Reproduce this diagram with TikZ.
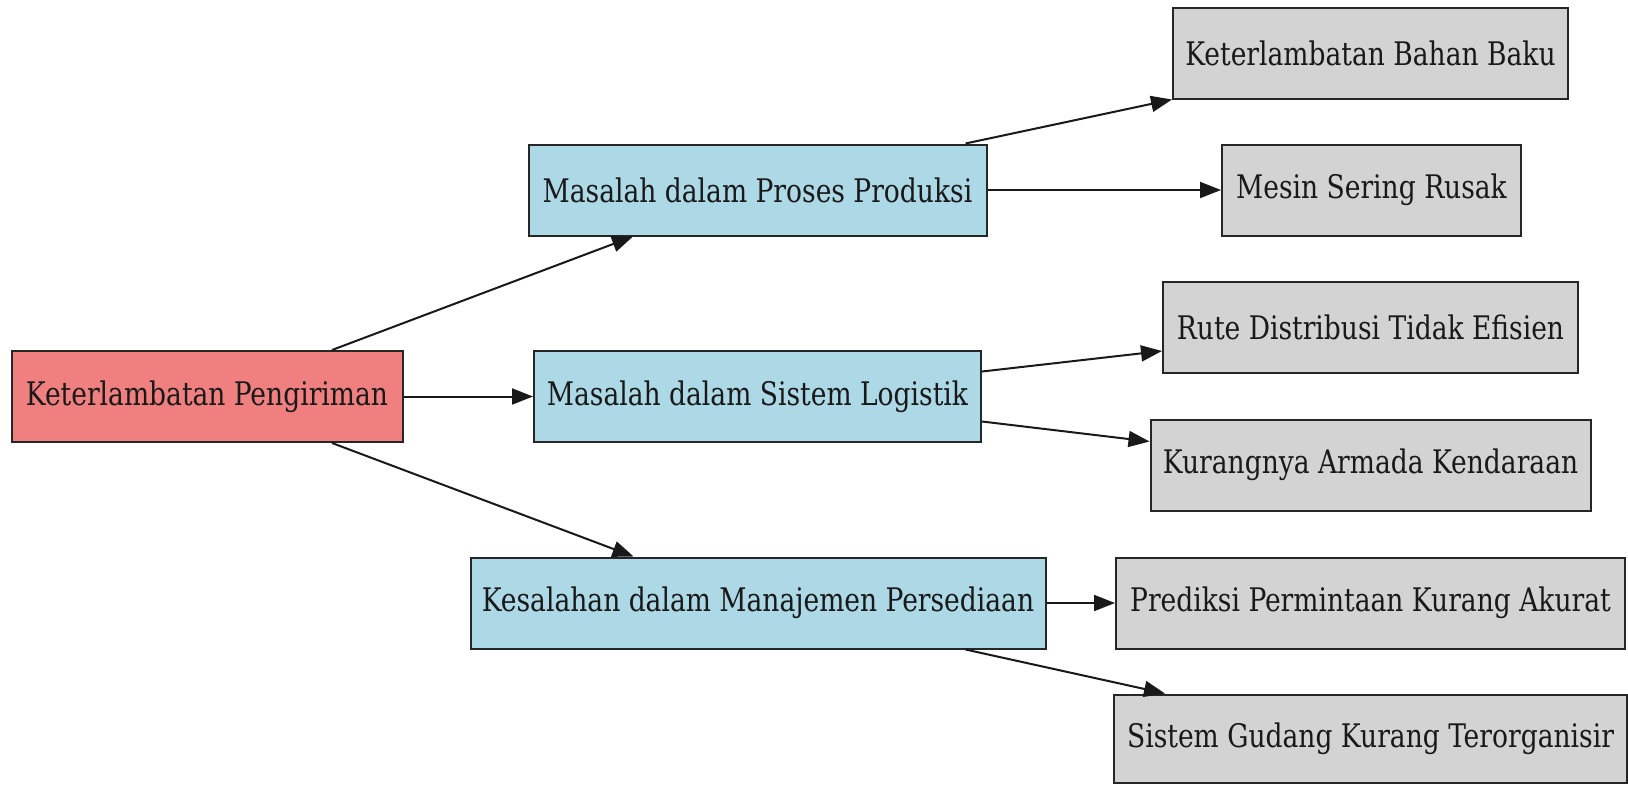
\documentclass[tikz,border=0pt]{standalone}
\usepackage{fontspec}
\usepackage{graphicx}
\setmainfont{DejaVu Serif Condensed}
\usetikzlibrary{arrows.meta}
\definecolor{rootfill}{HTML}{F08080}
\definecolor{midfill}{HTML}{ADD8E6}
\definecolor{leaffill}{HTML}{D3D3D3}
\newcommand{\tallTxt}[1]{\scalebox{1}[1.1]{#1}}
\tikzset{
  box/.style={draw=black!85, line width=2pt, rectangle, inner sep=0pt, minimum height=91pt,
    font=\fontsize{29.5}{32}\selectfont, text=black!90},
  rootbox/.style={box, fill=rootfill},
  midbox/.style={box, fill=midfill},
  leafbox/.style={box, fill=leaffill},
  arr/.style={line width=2pt, black!90, -{Triangle[length=21pt,width=16pt]}}
}
\begin{document}
\begin{tikzpicture}[x=1pt,y=-1pt]
\useasboundingbox (0,0) rectangle (1628,785);
\node[rootbox, minimum width=391pt] (root) at (207,396.5) {\tallTxt{Keterlambatan Pengiriman}};
\node[midbox, minimum width=458pt] (prod) at (757.5,190) {\tallTxt{Masalah dalam Proses Produksi}};
\node[midbox, minimum width=447pt] (log) at (757.5,396.5) {\tallTxt{Masalah dalam Sistem Logistik}};
\node[midbox, minimum width=575pt] (pers) at (758,603) {\tallTxt{Kesalahan dalam Manajemen Persediaan}};
\node[leafbox, minimum width=395pt] (bahan) at (1370.5,53) {\tallTxt{Keterlambatan Bahan Baku}};
\node[leafbox, minimum width=299pt] (mesin) at (1371.5,190) {\tallTxt{Mesin Sering Rusak}};
\node[leafbox, minimum width=415pt] (rute) at (1370.5,327.5) {\tallTxt{Rute Distribusi Tidak Efisien}};
\node[leafbox, minimum width=440pt] (kur) at (1370.5,465) {\tallTxt{Kurangnya Armada Kendaraan}};
\node[leafbox, minimum width=509pt] (pred) at (1370.5,603) {\tallTxt{Prediksi Permintaan Kurang Akurat}};
\node[leafbox, minimum width=513pt, minimum height=88pt] (gud) at (1370.5,738.5) {\tallTxt{Sistem Gudang Kurang Terorganisir}};

\draw[arr] ([xshift=125pt]root.north) -- ([xshift=-124.5pt]prod.south);
\draw[arr] (root.east) -- (log.west);
\draw[arr] ([xshift=125pt]root.south) -- ([xshift=-124.5pt]pers.north);
\draw[arr] ([xshift=208pt]prod.north) -- (bahan.south west);
\draw[arr] (prod.east) -- (mesin.west);
\draw[arr] ([yshift=25pt]log.east) -- ([yshift=-23.5pt]rute.west);
\draw[arr] ([yshift=-25pt]log.east) -- ([yshift=23.5pt]kur.west);
\draw[arr] (pers.east) -- (pred.west);
\draw[arr] ([xshift=207.5pt]pers.south) -- ([xshift=-205.5pt]gud.north);
\end{tikzpicture}
\end{document}
